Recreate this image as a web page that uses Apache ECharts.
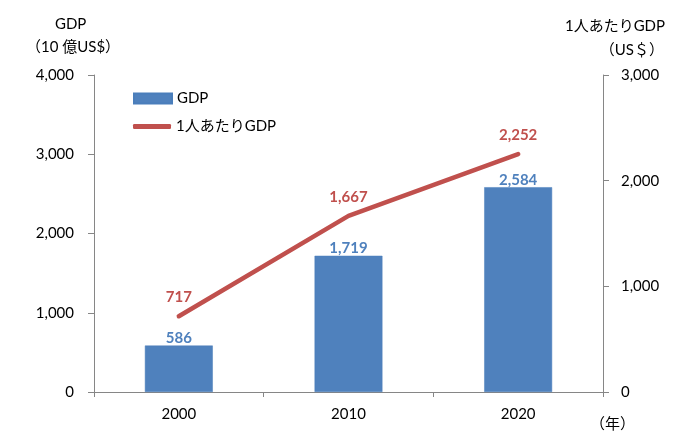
<!DOCTYPE html>
<html><head><meta charset="utf-8">
<script src="https://cdn.jsdelivr.net/npm/echarts@6/dist/echarts.min.js"></script>
<style>html,body{margin:0;padding:0;background:#fff}#c{width:700px;height:447px}</style>
</head><body><div id="c"></div>
<script>
const years = ['2000', '2010', '2020'];
const gdp = [586, 1719, 2584];
const gdpPerCapita = [717, 1667, 2252];
const leftTicks = [0, 1000, 2000, 3000, 4000];
const rightTicks = [0, 1000, 2000, 3000];

const FONT = "Lato, 'Noto Sans CJK JP', sans-serif";
const fmt = v => v.toLocaleString('en-US');
const axisColor = '#868686';

const chart = echarts.init(document.getElementById('c'));
chart.setOption({
  animation: false,
  textStyle: { fontFamily: FONT },
  grid: { left: 94, right: 97, top: 75, bottom: 55 },
  legend: [
    { data: [{ name: 'GDP', icon: 'rect' }], orient: 'vertical', left: 128, top: 86,
      itemWidth: 38, itemHeight: 10, itemGap: 4,
      textStyle: { fontFamily: FONT, fontSize: 15, color: '#000' } },
    { data: [{ name: '1人あたりGDP', icon: 'roundRect' }], orient: 'vertical', left: 128, top: 114,
      itemWidth: 38, itemHeight: 5,
      textStyle: { fontFamily: FONT, fontSize: 15, color: '#000' } }
  ],
  xAxis: {
    type: 'category', data: years,
    axisLine: { lineStyle: { color: axisColor, width: 1 } },
    axisTick: { show: true, length: 5, lineStyle: { color: axisColor } },
    axisLabel: { color: '#000', fontSize: 15, margin: 15, fontFamily: FONT }
  },
  yAxis: [
    { type: 'value', min: 0, max: 4000, interval: 1000,
      axisLine: { show: true, lineStyle: { color: axisColor } },
      axisTick: { show: true, length: 6, lineStyle: { color: axisColor } },
      splitLine: { show: false },
      axisLabel: { color: '#000', fontSize: 15, margin: 20, fontFamily: FONT,
        formatter: v => leftTicks.includes(v) ? fmt(v) : '' } },
    { type: 'value', min: 0, max: 3000, interval: 1000, position: 'right',
      axisLine: { show: true, lineStyle: { color: axisColor } },
      axisTick: { show: true, length: 6, lineStyle: { color: axisColor } },
      splitLine: { show: false },
      axisLabel: { color: '#000', fontSize: 15, margin: 18, fontFamily: FONT,
        formatter: v => rightTicks.includes(v) ? fmt(v) : '' } }
  ],
  series: [
    { name: 'GDP', type: 'bar', data: gdp, yAxisIndex: 0, barWidth: '40%',
      itemStyle: { color: '#4f81bd', borderColor: '#4a7ebb', borderWidth: 0.5 },
      label: { show: true, position: 'top', distance: 0, color: '#4f81bd',
        fontWeight: 'bold', fontSize: 15, fontFamily: FONT, formatter: p => fmt(p.value) } },
    { name: '1人あたりGDP', type: 'line', data: gdpPerCapita, yAxisIndex: 1,
      symbol: 'circle', symbolSize: 1, showSymbol: true,
      lineStyle: { color: '#c0504d', width: 4.5, cap: 'round' },
      itemStyle: { color: '#c0504d' },
      label: { show: true, position: 'top', distance: 11, color: '#c0504d',
        fontWeight: 'bold', fontSize: 15, fontFamily: FONT, formatter: p => fmt(p.value) } }
  ],
  graphic: [
    { type: 'text', left: 55, top: 17, style: { text: 'GDP', font: "15px " + FONT, fill: '#000' } },
    { type: 'text', left: 26, top: 40, style: { text: '（10 億US$）', font: "15px " + FONT, fill: '#000' } },
    { type: 'text', right: 35, top: 19, style: { text: '1人あたりGDP', font: "15px " + FONT, fill: '#000' } },
    { type: 'text', right: 36, top: 43, style: { text: '（US＄）', font: "15px " + FONT, fill: '#000' } },
    { type: 'text', left: 590, top: 417, style: { text: '（年）', font: "15px " + FONT, fill: '#000' } }
  ]
});
</script></body></html>
